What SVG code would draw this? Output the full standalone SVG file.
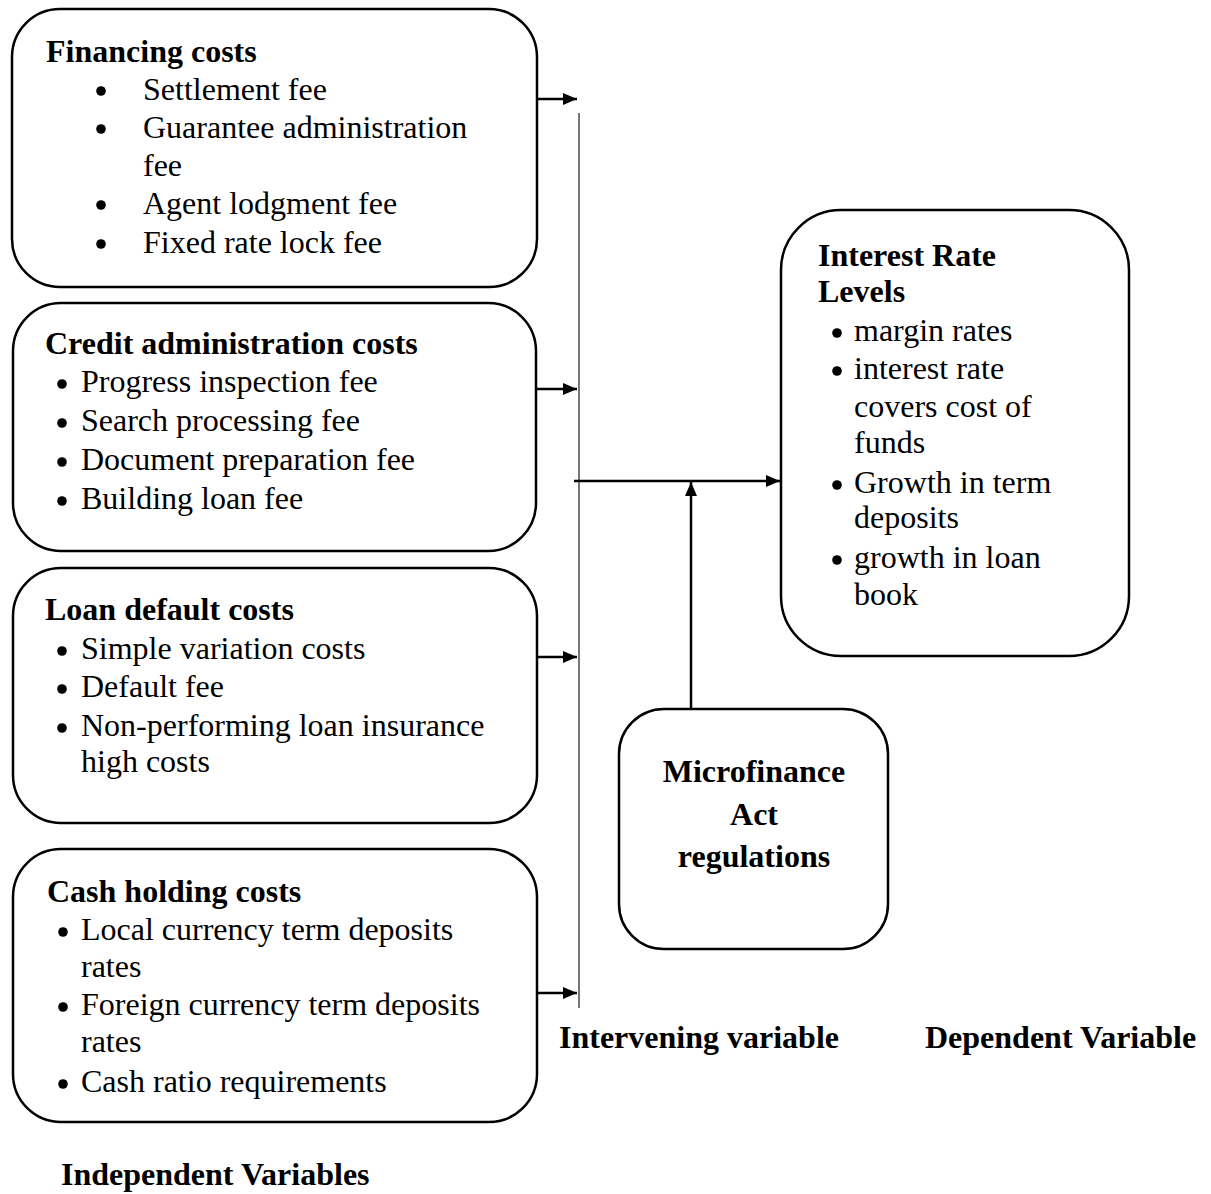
<svg xmlns="http://www.w3.org/2000/svg" width="1211" height="1194" viewBox="0 0 1211 1194">
<style>
.box{fill:#fff;stroke:#000;stroke-width:2.5}
.t{font-family:"Liberation Serif","Times New Roman",serif;font-size:32px;fill:#000}
.b{font-weight:bold}
.dot{fill:#000}
.arr{stroke:#000;stroke-width:2.5;fill:none;marker-end:url(#ah)}
.bar{stroke:#555;stroke-width:1.6;fill:none}
</style>
<defs>
<marker id="ah" markerUnits="userSpaceOnUse" markerWidth="14" markerHeight="12" refX="14" refY="6" orient="auto">
<path d="M0,0 L14,6 L0,12 z" fill="#000"/>
</marker>
</defs>
<rect width="1211" height="1194" fill="#fff"/>

<g id="connectors">
<line class="bar" x1="579" y1="113" x2="579" y2="1008"/>
<line class="arr" x1="537" y1="99" x2="577" y2="99"/>
<line class="arr" x1="536" y1="389" x2="577" y2="389"/>
<line class="arr" x1="537" y1="657" x2="577" y2="657"/>
<line class="arr" x1="537" y1="993" x2="577" y2="993"/>
<line class="arr" x1="574" y1="481" x2="780" y2="481"/>
<line class="arr" x1="691" y1="709" x2="691" y2="482"/>
</g>

<g id="financing">
<rect class="box" x="12" y="9" width="525" height="278" rx="48"/>
<text class="t b" x="46" y="62">Financing costs</text>
<circle class="dot" cx="101" cy="91" r="4.8"/>
<circle class="dot" cx="101" cy="129" r="4.8"/>
<circle class="dot" cx="101" cy="205" r="4.8"/>
<circle class="dot" cx="101" cy="244" r="4.8"/>
<text class="t" x="143" y="100">Settlement fee</text>
<text class="t" x="143" y="138">Guarantee administration</text>
<text class="t" x="143" y="176">fee</text>
<text class="t" x="143" y="214">Agent lodgment fee</text>
<text class="t" x="143" y="253">Fixed rate lock fee</text>
</g>

<g id="credit">
<rect class="box" x="13" y="303" width="523" height="248" rx="48"/>
<text class="t b" x="45" y="354">Credit administration costs</text>
<circle class="dot" cx="62" cy="384" r="4.8"/>
<circle class="dot" cx="62" cy="423" r="4.8"/>
<circle class="dot" cx="62" cy="462" r="4.8"/>
<circle class="dot" cx="62" cy="501" r="4.8"/>
<text class="t" x="81" y="392">Progress inspection fee</text>
<text class="t" x="81" y="431">Search processing fee</text>
<text class="t" x="81" y="470">Document preparation fee</text>
<text class="t" x="81" y="509">Building loan fee</text>
</g>

<g id="loandefault">
<rect class="box" x="13" y="568" width="524" height="255" rx="48"/>
<text class="t b" x="45" y="620">Loan default costs</text>
<circle class="dot" cx="62" cy="651" r="4.8"/>
<circle class="dot" cx="62" cy="689" r="4.8"/>
<circle class="dot" cx="62" cy="728" r="4.8"/>
<text class="t" x="81" y="659">Simple variation costs</text>
<text class="t" x="81" y="697">Default fee</text>
<text class="t" x="81" y="736">Non-performing loan insurance</text>
<text class="t" x="81" y="772">high costs</text>
</g>

<g id="cashholding">
<rect class="box" x="13" y="849" width="524" height="273" rx="48"/>
<text class="t b" x="47" y="902">Cash holding costs</text>
<circle class="dot" cx="63" cy="932" r="4.8"/>
<circle class="dot" cx="63" cy="1007" r="4.8"/>
<circle class="dot" cx="63" cy="1084" r="4.8"/>
<text class="t" x="81" y="940">Local currency term deposits</text>
<text class="t" x="81" y="977">rates</text>
<text class="t" x="81" y="1015">Foreign currency term deposits</text>
<text class="t" x="81" y="1052">rates</text>
<text class="t" x="81" y="1092">Cash ratio requirements</text>
</g>

<g id="interest">
<rect class="box" x="781" y="210" width="348" height="446" rx="60"/>
<text class="t b" x="818" y="266">Interest Rate</text>
<text class="t b" x="818" y="302">Levels</text>
<circle class="dot" cx="837" cy="333" r="4.8"/>
<circle class="dot" cx="837" cy="371" r="4.8"/>
<circle class="dot" cx="837" cy="485" r="4.8"/>
<circle class="dot" cx="837" cy="560" r="4.8"/>
<text class="t" x="854" y="341">margin rates</text>
<text class="t" x="854" y="379">interest rate</text>
<text class="t" x="854" y="417">covers cost of</text>
<text class="t" x="854" y="453">funds</text>
<text class="t" x="854" y="493">Growth in term</text>
<text class="t" x="854" y="528">deposits</text>
<text class="t" x="854" y="568">growth in loan</text>
<text class="t" x="854" y="605">book</text>
</g>

<g id="microfinance">
<rect class="box" x="619" y="709" width="269" height="240" rx="45"/>
<text class="t b" x="754" y="782" text-anchor="middle">Microfinance</text>
<text class="t b" x="754" y="825" text-anchor="middle">Act</text>
<text class="t b" x="754" y="867" text-anchor="middle">regulations</text>
</g>

<g id="labels">
<text class="t b" x="61" y="1185">Independent Variables</text>
<text class="t b" x="559" y="1048">Intervening variable</text>
<text class="t b" x="925" y="1048">Dependent Variable</text>
</g>
</svg>
